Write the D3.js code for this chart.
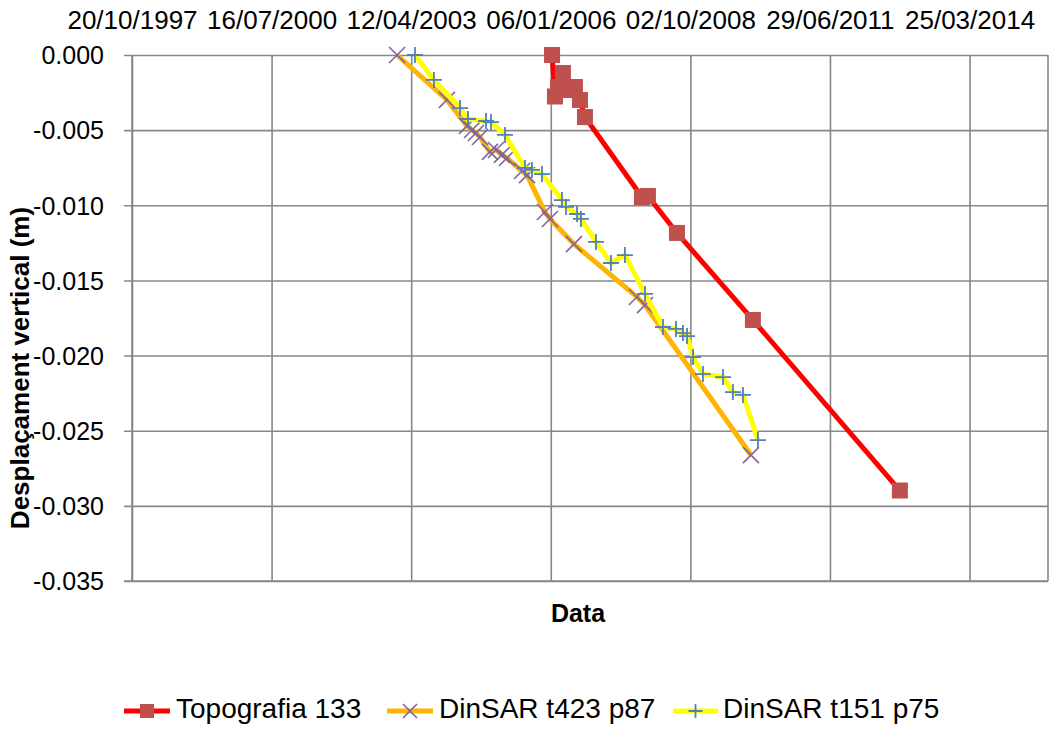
<!DOCTYPE html>
<html>
<head>
<meta charset="utf-8">
<script src="https://cdn.jsdelivr.net/npm/d3@7"></script>
<style>
  html, body { margin: 0; padding: 0; background: #ffffff; }
  svg { display: block; }
  text { font-family: "Liberation Sans", Arial, sans-serif; fill: #000; }
</style>
</head>
<body>
<svg id="chart" width="1049" height="729"></svg>
<script>
// ---------------- DATA ----------------
const seriesNames = ["Topografia 133", "DinSAR t423 p87", "DinSAR t151 p75"];

const topoDates = ["2006-01-15","2006-02-05","2006-02-27","2006-04-03","2006-05-09","2006-06-28","2006-08-03","2006-09-08","2007-10-21","2007-12-03","2008-06-28","2009-12-24","2012-11-11"];
const topoValues = [0.0000,-0.00276,-0.00213,-0.00120,-0.00233,-0.00213,-0.00299,-0.00413,-0.00945,-0.00938,-0.01184,-0.01763,-0.02898];

const t423Dates = ["2003-01-01","2003-12-24","2004-05-16","2004-06-21","2004-07-19","2004-08-17","2004-10-27","2004-12-09","2005-01-21","2005-02-26","2005-06-14","2005-07-20","2005-11-25","2005-12-31","2006-06-21","2007-09-15","2007-11-12","2009-12-10"];
const t423Values = [0.0000,-0.00299,-0.00472,-0.00499,-0.00519,-0.00546,-0.00645,-0.00632,-0.00665,-0.00685,-0.00772,-0.00799,-0.01045,-0.01091,-0.01258,-0.01610,-0.01664,-0.02662];

const t151Dates = ["2003-05-09","2003-09-22","2004-03-27","2004-05-23","2004-09-29","2004-11-04","2005-02-12","2005-07-05","2005-08-24","2005-11-04","2006-03-27","2006-04-25","2006-07-13","2006-08-10","2006-11-26","2007-03-13","2007-06-21","2007-11-12","2008-03-20","2008-06-21","2008-08-10","2008-09-08","2008-10-21","2008-12-31","2009-05-24","2009-08-03","2009-10-14","2010-01-29"];
const t151Values = [0.0000,-0.00166,-0.00353,-0.00426,-0.00439,-0.00446,-0.00532,-0.00752,-0.00765,-0.00792,-0.00965,-0.01011,-0.01058,-0.01091,-0.01244,-0.01384,-0.01331,-0.01590,-0.01810,-0.01823,-0.01850,-0.01870,-0.02010,-0.02123,-0.02143,-0.02243,-0.02262,-0.02562];

const xTickDates = ["1997-10-20","2000-07-16","2003-04-12","2006-01-06","2008-10-02","2011-06-29","2014-03-25"];
const yTickValues = [0.000,-0.005,-0.010,-0.015,-0.020,-0.025,-0.030,-0.035];

const xAxisTitle = "Data";
const yAxisTitle = "Desplaçament vertical (m)";

// ---------------- SETUP ----------------
const W = 1049, H = 729;
const plot = { left: 132, right: 1048, top: 55, bottom: 581 };
const parse = d3.utcParse("%Y-%m-%d");
const DAY = 86400000;

const xMin = parse(xTickDates[0]);
const xMax = new Date(xMin.getTime() + 6562 * DAY);

const x = d3.scaleUtc().domain([xMin, xMax]).range([plot.left, plot.right]);
const y = d3.scaleLinear().domain([0, -0.035]).range([plot.top, plot.bottom]);

const svg = d3.select("#chart");
svg.append("rect").attr("width", W).attr("height", H).attr("fill", "#fff");

const gridColor = "#878787";

// horizontal gridlines (y axis)
const yAxis = d3.axisLeft(y)
  .tickValues(yTickValues)
  .tickSize(-(plot.right - plot.left))
  .tickPadding(28)
  .tickFormat(d => d3.format(".3f")(d).replace("−", "-"));
const gy = svg.append("g").attr("transform", `translate(${plot.left},0)`).call(yAxis);
gy.select(".domain").remove();
gy.selectAll(".tick line").attr("stroke", gridColor).attr("stroke-width", 1.6).attr("x1", -8);
gy.selectAll(".tick text").attr("font-size", 25).attr("font-family", "Liberation Sans, Arial, sans-serif").attr("fill", "#000").attr("dy", "0.35em");

// vertical gridlines (x axis on top)
const xAxis = d3.axisTop(x)
  .tickValues(xTickDates.map(parse))
  .tickSize(-(plot.bottom - plot.top))
  .tickPadding(35)
  .tickFormat(d3.utcFormat("%d/%m/%Y"));
const gx = svg.append("g").attr("transform", `translate(0,${plot.top})`).call(xAxis);
gx.select(".domain").remove();
gx.selectAll(".tick line").attr("stroke", gridColor).attr("stroke-width", 1.6);
gx.selectAll(".tick text").attr("font-size", 26).attr("font-family", "Liberation Sans, Arial, sans-serif").attr("fill", "#000").attr("dy", "0.35em");

// plot border right, bottom, left
svg.append("line").attr("x1", plot.right).attr("x2", plot.right).attr("y1", plot.top).attr("y2", plot.bottom)
  .attr("stroke", gridColor).attr("stroke-width", 1.6);
svg.append("line").attr("x1", plot.left - 8).attr("x2", plot.right).attr("y1", plot.bottom).attr("y2", plot.bottom)
  .attr("stroke", gridColor).attr("stroke-width", 1.6);
svg.append("line").attr("x1", plot.left).attr("x2", plot.left).attr("y1", plot.top).attr("y2", plot.bottom)
  .attr("stroke", gridColor).attr("stroke-width", 1.6);

// ---------------- SERIES ----------------
const line = d3.line().x(d => x(d.date)).y(d => y(d.value));

function build(dates, values) {
  return dates.map((d, i) => ({ date: parse(d), value: values[i] }));
}

const series = [
  { name: seriesNames[0], data: build(topoDates, topoValues), color: "#FF0000", width: 5, marker: "square", mcolor: "#C0504D" },
  { name: seriesNames[1], data: build(t423Dates, t423Values), color: "#FFB400", width: 5, marker: "x", mcolor: "#8064A2" },
  { name: seriesNames[2], data: build(t151Dates, t151Values), color: "#FFFF00", width: 5, marker: "plus", mcolor: "#4F81BD" }
];

function drawMarker(g, type, cx, cy, color, size) {
  if (type === "square") {
    g.append("rect").attr("x", cx - size / 2).attr("y", cy - size / 2)
      .attr("width", size).attr("height", size).attr("fill", color);
  } else if (type === "x") {
    const h = size / 2;
    g.append("path").attr("d", `M${cx - h},${cy - h}L${cx + h},${cy + h}M${cx - h},${cy + h}L${cx + h},${cy - h}`)
      .attr("stroke", color).attr("stroke-width", 1.6).attr("fill", "none");
  } else {
    const h = size / 2;
    g.append("path").attr("d", `M${cx - h},${cy}L${cx + h},${cy}M${cx},${cy - h}L${cx},${cy + h}`)
      .attr("stroke", color).attr("stroke-width", 1.8).attr("fill", "none");
  }
}

series.forEach(s => {
  const g = svg.append("g");
  g.append("path").datum(s.data).attr("d", line)
    .attr("fill", "none").attr("stroke", s.color).attr("stroke-width", s.width)
    .attr("stroke-linejoin", "round");
  s.data.forEach(d => {
    drawMarker(g, s.marker, x(d.date), y(d.value), s.mcolor, 16);
  });
});

// ---------------- TITLES ----------------
svg.append("text").attr("x", 578).attr("y", 615).attr("text-anchor", "middle").attr("dominant-baseline", "middle")
  .attr("font-size", 25).attr("font-weight", "bold").text(xAxisTitle);
svg.append("text").attr("transform", `translate(22,368) rotate(-90)`).attr("text-anchor", "middle").attr("dominant-baseline", "middle")
  .attr("font-size", 26).attr("font-weight", "bold").text(yAxisTitle);

// ---------------- LEGEND ----------------
const legendItems = [
  { s: series[0], x0: 124, x1: 170, tx: 176 },
  { s: series[1], x0: 387, x1: 433, tx: 439 },
  { s: series[2], x0: 673, x1: 718, tx: 723 }
];
const ly = 711;
legendItems.forEach(it => {
  const g = svg.append("g");
  g.append("line").attr("x1", it.x0).attr("x2", it.x1).attr("y1", ly).attr("y2", ly)
    .attr("stroke", it.s.color).attr("stroke-width", 5);
  drawMarker(g, it.s.marker, (it.x0 + it.x1) / 2, ly, it.s.mcolor, 14);
  g.append("text").attr("x", it.tx).attr("y", ly).attr("dominant-baseline", "middle")
    .attr("font-size", 28).text(it.s.name);
});
</script>
</body>
</html>
